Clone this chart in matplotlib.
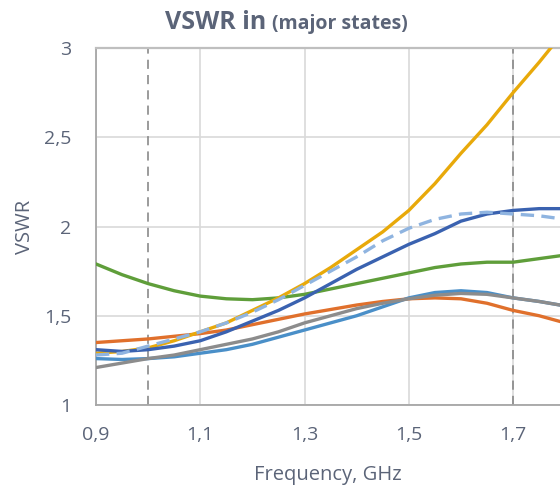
import matplotlib.pyplot as plt

plt.rcParams['font.family'] = ['Open Sans', 'DejaVu Sans']

# frequency points, GHz
freq = [0.9, 0.95, 1.0, 1.05, 1.1, 1.15, 1.2, 1.25, 1.3, 1.35,
        1.4, 1.45, 1.5, 1.55, 1.6, 1.65, 1.7, 1.75, 1.8]

# VSWR per state
vswr_green = [1.79, 1.73, 1.68, 1.64, 1.61, 1.595, 1.59, 1.60, 1.62, 1.65,
              1.68, 1.71, 1.74, 1.77, 1.79, 1.80, 1.80, 1.82, 1.84]
vswr_orange = [1.35, 1.36, 1.37, 1.385, 1.40, 1.42, 1.45, 1.48, 1.51, 1.535,
               1.56, 1.58, 1.595, 1.60, 1.595, 1.57, 1.53, 1.50, 1.46]
vswr_yellow = [1.29, 1.30, 1.32, 1.36, 1.41, 1.46, 1.53, 1.60, 1.68, 1.77,
               1.87, 1.97, 2.09, 2.24, 2.41, 2.57, 2.75, 2.92, 3.10]
vswr_blue = [1.26, 1.255, 1.26, 1.27, 1.29, 1.31, 1.34, 1.38, 1.42, 1.46,
             1.50, 1.55, 1.60, 1.63, 1.64, 1.63, 1.60, 1.58, 1.555]
vswr_gray = [1.21, 1.235, 1.26, 1.28, 1.31, 1.34, 1.37, 1.41, 1.46, 1.50,
             1.54, 1.57, 1.595, 1.615, 1.625, 1.62, 1.60, 1.58, 1.555]
vswr_darkblue = [1.31, 1.30, 1.31, 1.33, 1.36, 1.41, 1.47, 1.53, 1.60, 1.68,
                 1.76, 1.83, 1.90, 1.96, 2.03, 2.07, 2.09, 2.10, 2.10]
vswr_dashed = [1.28, 1.29, 1.33, 1.37, 1.41, 1.46, 1.52, 1.59, 1.67, 1.75,
               1.83, 1.92, 1.99, 2.04, 2.07, 2.08, 2.07, 2.06, 2.04]

band_edges = [1.0, 1.7]
xticks = [0.9, 1.1, 1.3, 1.5, 1.7]
xtick_labels = ['0,9', '1,1', '1,3', '1,5', '1,7']
yticks = [1, 1.5, 2, 2.5, 3]
ytick_labels = ['1', '1,5', '2', '2,5', '3']

txt = '#5b6478'

fig = plt.figure(figsize=(5.6, 4.87), dpi=100)
ax = fig.add_axes([96 / 560, 1 - 405 / 487, 1 - 96 / 560, (405 - 48) / 487])

ax.set_xlim(0.9, 1.79)
ax.set_ylim(1, 3)
ax.set_xticks(xticks)
ax.set_xticklabels(xtick_labels)
ax.set_yticks(yticks)
ax.set_yticklabels(ytick_labels)
ax.tick_params(length=0, labelsize=14, labelcolor=txt)
ax.tick_params(axis='x', pad=15)
ax.tick_params(axis='y', pad=18)
ax.grid(True, color='#d9d9d9', linewidth=1.2, zorder=0)
ax.set_axisbelow(True)

ax.spines['right'].set_visible(False)
ax.spines['top'].set_color('#bfbfbf')
ax.spines['top'].set_linewidth(1.6)
ax.spines['left'].set_color('#a6a6a6')
ax.spines['left'].set_linewidth(1.3)
ax.spines['bottom'].set_color('#a6a6a6')
ax.spines['bottom'].set_linewidth(1.3)

for xe in band_edges:
    ax.axvline(xe, color='#808080', linewidth=1.1, linestyle=(0, (6, 4)), zorder=1)

lw = 2.4
ax.plot(freq, vswr_green, color='#5f9e3a', linewidth=lw, zorder=3)
ax.plot(freq, vswr_orange, color='#e0702c', linewidth=lw, zorder=3)
ax.plot(freq, vswr_yellow, color='#e8a90a', linewidth=lw, zorder=3)
ax.plot(freq, vswr_blue, color='#4a8fc8', linewidth=lw, zorder=3)
ax.plot(freq, vswr_gray, color='#8c8c8c', linewidth=lw, zorder=3)
ax.plot(freq, vswr_darkblue, color='#3a62b0', linewidth=lw, zorder=3)
ax.plot(freq, vswr_dashed, color='#8fb4e0', linewidth=lw, linestyle=(0, (4, 2.2)), zorder=4)

ax.set_xlabel('Frequency, GHz', fontsize=14.5, color=txt, labelpad=15)
ax.set_ylabel('VSWR', fontsize=14.5, color=txt, labelpad=6)

fig.text(266 / 560, 1 - 29 / 487, 'VSWR in', fontsize=18, fontweight='bold',
         color=txt, ha='right', va='baseline')
fig.text(272 / 560, 1 - 29 / 487, '(major states)', fontsize=14, fontweight='bold',
         color=txt, ha='left', va='baseline')

fig.savefig('out.png', dpi=100)
